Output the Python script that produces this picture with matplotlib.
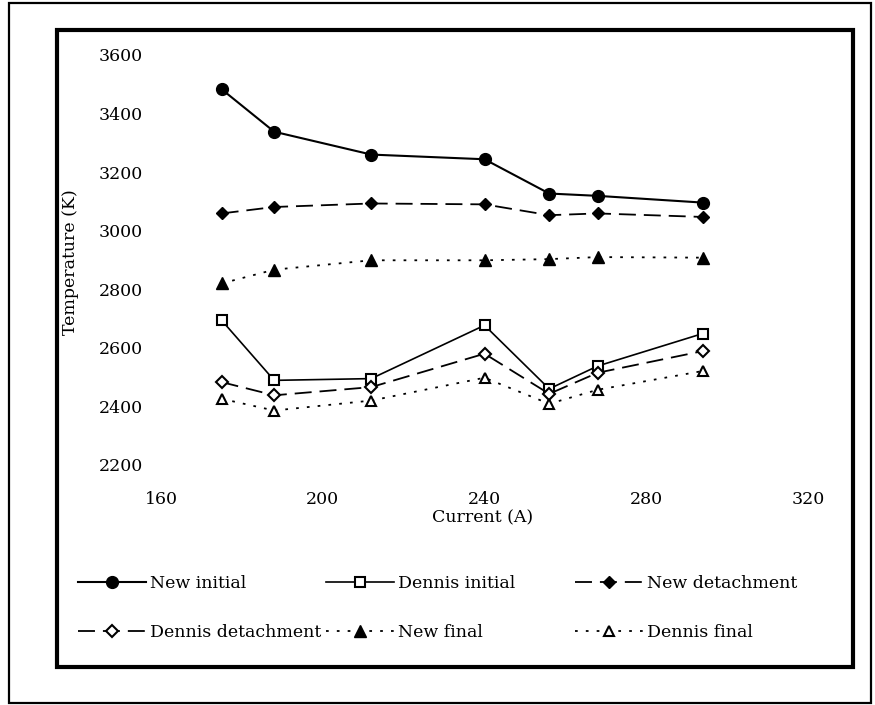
import matplotlib
matplotlib.use("Agg")
import matplotlib.pyplot as plt
from matplotlib.patches import Rectangle

# ---- data ----
current = [175, 188, 212, 240, 256, 268, 294]
new_initial = [3483, 3338, 3260, 3244, 3127, 3119, 3096]
new_detach = [3059, 3081, 3093, 3090, 3053, 3059, 3047]
new_final = [2820, 2867, 2899, 2899, 2903, 2910, 2908]
dennis_initial = [2694, 2489, 2495, 2677, 2460, 2538, 2649]
dennis_detach = [2483, 2438, 2466, 2580, 2443, 2515, 2589]
dennis_final = [2426, 2386, 2420, 2498, 2409, 2457, 2521]
x_ticks = [160, 200, 240, 280, 320]
y_ticks = [2200, 2400, 2600, 2800, 3000, 3200, 3400, 3600]
labels = ["New initial", "Dennis initial", "New detachment",
          "Dennis detachment", "New final", "Dennis final"]

W, H = 875, 705
plt.rcParams['font.family'] = ['DejaVu Serif']
fig = plt.figure(figsize=(W / 100, H / 100), dpi=100)

def fx(px):
    return px / W

def fy(py):
    return 1 - py / H

# borders
fig.add_artist(Rectangle((fx(9), fy(703)), fx(862), (703 - 3) / H, fill=False,
                         lw=1.6, ec='black', transform=fig.transFigure))
fig.add_artist(Rectangle((fx(57), fy(667)), fx(853 - 57), (667 - 30) / H, fill=False,
                         lw=3.0, ec='black', transform=fig.transFigure))

ax_l, ax_r, ax_t, ax_b = 161, 808, 55, 465
ax = fig.add_axes([fx(ax_l), fy(ax_b), (ax_r - ax_l) / W, (ax_b - ax_t) / H])
ax.set_xlim(160, 320)
ax.set_ylim(2200, 3600)
for s in ax.spines.values():
    s.set_visible(False)
ax.set_xticks(x_ticks)
ax.set_yticks(y_ticks)
ax.tick_params(axis='both', length=0, labelsize=12.5)
ax.tick_params(axis='y', pad=13)
ax.tick_params(axis='x', pad=19)

lw_solid = 1.5
dash = (9.4, 4.4)
dot = (1.5, 4.5)
l1, = ax.plot(current, new_initial, '-', color='black', lw=lw_solid,
              marker='o', ms=8.5, mfc='black', mec='black', label=labels[0])
l2, = ax.plot(current, dennis_initial, '-', color='black', lw=1.2,
              marker='s', ms=6.5, mfc='white', mec='black', mew=1.5, label=labels[1])
l3, = ax.plot(current, new_detach, color='black', lw=1.3, dashes=dash,
              marker='D', ms=6.5, mfc='black', mec='black', label=labels[2])
l4, = ax.plot(current, dennis_detach, color='black', lw=1.3, dashes=dash,
              marker='D', ms=6, mfc='white', mec='black', mew=1.5, label=labels[3])
l5, = ax.plot(current, new_final, color='black', lw=1.3, dashes=dot,
              marker='^', ms=8, mfc='black', mec='black', label=labels[4])
l6, = ax.plot(current, dennis_final, color='black', lw=1.3, dashes=dot,
              marker='^', ms=7, mfc='white', mec='black', mew=1.5, label=labels[5])

ax.set_xlabel("Current (A)", fontsize=12.5)
ax.xaxis.set_label_coords((483 - ax_l) / (ax_r - ax_l), -(518 - ax_b) / (ax_b - ax_t))
ax.xaxis.label.set_va('center')
ax.set_ylabel("Temperature (K)", fontsize=12.5)
ax.yaxis.set_label_coords((70 - ax_l) / (ax_r - ax_l), (ax_b - 262) / (ax_b - ax_t))
ax.yaxis.label.set_va('center')

# legend in three columns
cols = [([l1, l4], 78), ([l2, l5], 326), ([l3, l6], 575)]
for handles, x0 in cols:
    leg = fig.legend(handles=handles, labels=[h.get_label() for h in handles],
                     loc='upper left', bbox_to_anchor=(fx(x0), fy(575)),
                     bbox_transform=fig.transFigure, frameon=False,
                     fontsize=12.5, handlelength=3.9, handletextpad=0.25,
                     borderpad=0, borderaxespad=0, labelspacing=1.87,
                     numpoints=1)

fig.savefig("out.png", dpi=100)
